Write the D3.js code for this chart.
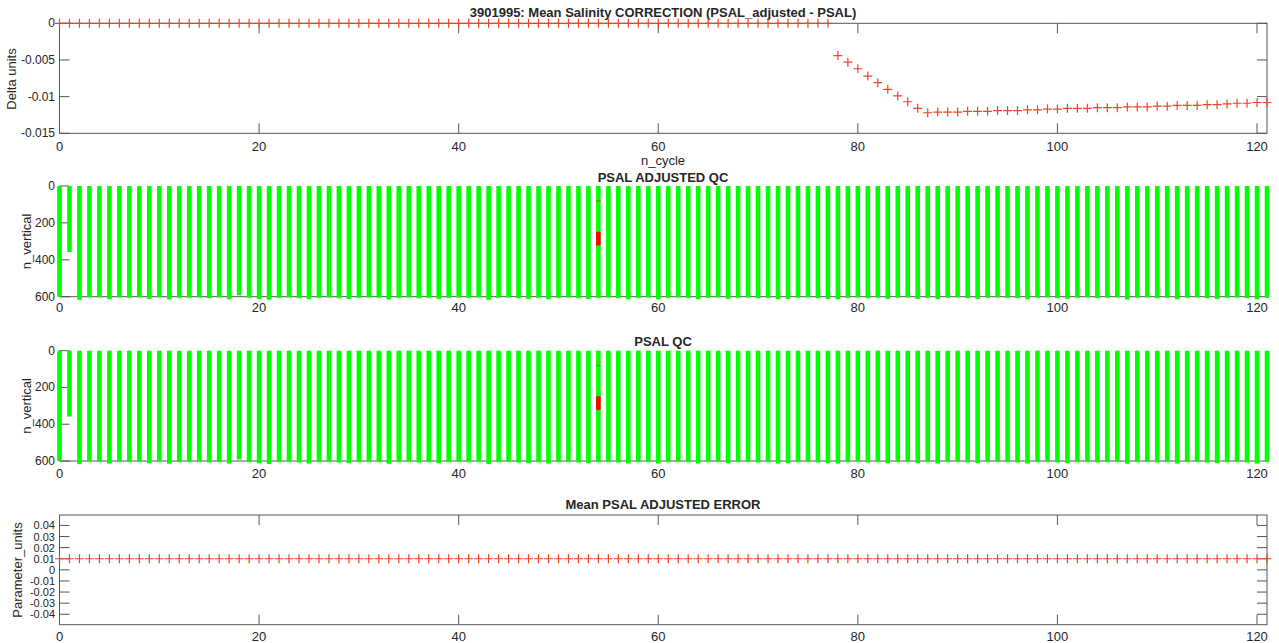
<!DOCTYPE html>
<html>
<head>
<meta charset="utf-8">
<script src="https://cdn.jsdelivr.net/npm/d3@7"></script>
<style>
  body { margin: 0; background: #fff; }
  text { font-family: "Liberation Sans", Arial, Helvetica, sans-serif; fill: #262626; }
</style>
</head>
<body>
<svg id="chart" width="1279" height="643"></svg>
<script>
// ---- data -------------------------------------------------------------
const floatId = "3901995";
const cycles = d3.range(0, 122);   // cycle numbers 0..121

// mean PSAL correction (PSAL_adjusted - PSAL) per cycle
const correction = [
  0,0,0,0,0,0,0,0,0,0, 0,0,0,0,0,0,0,0,0,0,
  0,0,0,0,0,0,0,0,0,0, 0,0,0,0,0,0,0,0,0,0,
  0,0,0,0,0,0,0,0,0,0, 0,0,0,0,0,0,0,0,0,0,
  0,0,0,0,0,0,0,0,0,0, 0,0,0,0,0,0,0,0,
  -0.0044,-0.0053,-0.0062,-0.0072,-0.0081,-0.0090,-0.0099,-0.0107,-0.0116,-0.0122,
  -0.0121,-0.0121,-0.0121,-0.0120,-0.0120,-0.0120,-0.0119,-0.0119,-0.0119,-0.0118,
  -0.0118,-0.0117,-0.0117,-0.0116,-0.0116,-0.0116,-0.0115,-0.0115,-0.0115,-0.0114,
  -0.0114,-0.0114,-0.0113,-0.0113,-0.0112,-0.0112,-0.0112,-0.0111,-0.0111,-0.0110,
  -0.0109,-0.0109,-0.0108,-0.0108
];

// mean PSAL adjusted error per cycle
const adjustedError = [
  0.01,0.01,0.01,0.01,0.01,0.01,0.01,0.01,0.01,0.01, 0.01,0.01,0.01,0.01,0.01,0.01,0.01,0.01,0.01,0.01,
  0.01,0.01,0.01,0.01,0.01,0.01,0.01,0.01,0.01,0.01, 0.01,0.01,0.01,0.01,0.01,0.01,0.01,0.01,0.01,0.01,
  0.01,0.01,0.01,0.01,0.01,0.01,0.01,0.01,0.01,0.01, 0.01,0.01,0.01,0.01,0.01,0.01,0.01,0.01,0.01,0.01,
  0.01,0.01,0.01,0.01,0.01,0.01,0.01,0.01,0.01,0.01, 0.01,0.01,0.01,0.01,0.01,0.01,0.01,0.01,0.01,0.01,
  0.01,0.01,0.01,0.01,0.01,0.01,0.01,0.01,0.01,0.01, 0.01,0.01,0.01,0.01,0.01,0.01,0.01,0.01,0.01,0.01,
  0.01,0.01,0.01,0.01,0.01,0.01,0.01,0.01,0.01,0.01, 0.01,0.01,0.01,0.01,0.01,0.01,0.01,0.01,0.01,0.01,
  0.01,0.01
];

// number of vertical levels in each profile
const nLevels = [
  600,358,617,604,604,614,604,606,604,612, 604,615,606,606,604,608,604,614,592,606,
  612,616,606,604,608,614,606,604,608,612, 606,604,606,615,606,604,608,606,612,606,
  604,606,604,617,606,604,608,612,606,614, 606,604,608,612,606,604,608,614,606,604,
  614,606,604,606,614,606,604,612,606,604, 608,606,614,612,606,604,608,612,614,606,
  604,608,606,612,606,604,612,606,614,606, 604,608,612,606,604,606,608,614,606,604,
  608,612,606,604,608,606,604,615,606,604, 608,606,614,606,604,608,612,606,604,608,
  614,606
];

// flagged level ranges (cycle, first level, last level, QC flag)
const badCycle = [54, 54];
const badFrom  = [248, 77];
const badTo    = [322, 82];
const badFlag  = [4, 3];

const xTicks = [0, 20, 40, 60, 80, 100, 120];
const corrTicks = [0, -0.005, -0.01, -0.015];
const levelTicks = [0, 200, 400, 600];
const errTicks = [0.04, 0.03, 0.02, 0.01, 0, -0.01, -0.02, -0.03, -0.04];

// ---- drawing -----------------------------------------------------------
const svg = d3.select("#chart");
svg.append("rect").attr("width", 1279).attr("height", 643).attr("fill", "#fff");

const AX = "#555";
const MARK = "#f4431f";
const GOOD = "#00ff00";
const flagColor = { 3: "#b8602a", 4: "#ff0000" };
const TL = 10;            // inward tick length

const x = d3.scaleLinear().domain([0, 121]).range([59.5, 1267]);

function title(txt, y) {
  svg.append("text").attr("x", 663).attr("y", y).attr("text-anchor", "middle")
    .attr("dominant-baseline", "central")
    .attr("font-size", 13).attr("font-weight", "bold").text(txt);
}
function yLabel(txt, cx, cy) {
  svg.append("text").attr("transform", `translate(${cx},${cy}) rotate(-90)`)
    .attr("text-anchor", "middle").attr("dominant-baseline", "central")
    .attr("font-size", 13).text(txt);
}
function xAxis(y0, y1, labelY, mirror) {
  const g = svg.append("g");
  g.selectAll("line.bt").data(xTicks).join("line")
    .attr("x1", d => x(d)).attr("x2", d => x(d)).attr("y1", y1).attr("y2", y1 - TL)
    .attr("stroke", AX);
  if (mirror) {
    g.selectAll("line.tt").data(xTicks).join("line")
      .attr("x1", d => x(d)).attr("x2", d => x(d)).attr("y1", y0).attr("y2", y0 + TL)
      .attr("stroke", AX);
  }
  g.selectAll("text").data(xTicks).join("text")
    .attr("x", d => x(d)).attr("y", labelY).attr("text-anchor", "middle")
    .attr("dominant-baseline", "central").attr("font-size", 13).text(d => d);
}
function yAxis(scale, ticks, fmt, mirror, fs) {
  const g = svg.append("g");
  const x0 = x.range()[0], x1 = x.range()[1];
  g.selectAll("line.l").data(ticks).join("line")
    .attr("x1", x0).attr("x2", x0 + TL).attr("y1", d => scale(d)).attr("y2", d => scale(d))
    .attr("stroke", AX);
  if (mirror) {
    g.selectAll("line.r").data(ticks).join("line")
      .attr("x1", x1).attr("x2", x1 - TL).attr("y1", d => scale(d)).attr("y2", d => scale(d))
      .attr("stroke", AX);
  }
  g.selectAll("text").data(ticks).join("text")
    .attr("x", 55).attr("y", d => scale(d)).attr("text-anchor", "end")
    .attr("dominant-baseline", "central").attr("font-size", fs).text(fmt);
}
function frame(y0, y1, full) {
  const x0 = x.range()[0], x1 = x.range()[1];
  if (full) {
    svg.append("rect").attr("x", x0).attr("y", y0).attr("width", x1 - x0).attr("height", y1 - y0)
      .attr("fill", "none").attr("stroke", AX);
  } else {
    svg.append("path").attr("d", `M${x0},${y0}V${y1}H${x1}`).attr("fill", "none").attr("stroke", AX);
  }
}
function plusMarks(data, scale) {
  const s = 4.5;
  svg.append("g").selectAll("path").data(data).join("path")
    .attr("d", d => `M${x(d.c) - s},${scale(d.v)}h${2 * s}M${x(d.c)},${scale(d.v) - s}v${2 * s}`)
    .attr("stroke", MARK).attr("stroke-width", 1.2).attr("fill", "none");
}
const fmtTick = d => d === 0 ? "0" : String(d);

// Panel 1: mean salinity correction
const y1 = d3.scaleLinear().domain([-0.015, 0]).range([133.3, 23.3]);
title(`${floatId}: Mean Salinity CORRECTION (PSAL_adjusted - PSAL)`, 12);
frame(23.3, 133.3, true);
xAxis(23.3, 133.3, 146, true);
yAxis(y1, corrTicks, fmtTick, true, 12);
yLabel("Delta units", 11, 79);
svg.append("text").attr("x", 663).attr("y", 160).attr("text-anchor", "middle")
  .attr("dominant-baseline", "central").attr("font-size", 13).text("n_cycle");
plusMarks(cycles.map((c, i) => ({ c, v: correction[i] })), y1);

// Panels 2 & 3: QC flags per level
function qcPanel(label, top, bottom, labelY) {
  const y = d3.scaleLinear().domain([0, 600]).range([top, bottom]);
  title(label, top - 9);
  frame(top, bottom, false);
  xAxis(top, bottom, labelY, false);
  yAxis(y, levelTicks, d => d, false, 12);
  yLabel("n_vertical", 26, (top + bottom) / 2);
  const hw = (x(1) - x(0)) * 0.23;
  svg.append("g").selectAll("rect").data(cycles).join("rect")
    .attr("x", c => x(c) - hw).attr("width", 2 * hw)
    .attr("y", y(0)).attr("height", c => y(nLevels[c]) - y(0))
    .attr("fill", GOOD);
  svg.append("g").selectAll("rect").data(badCycle.map((c, i) => i)).join("rect")
    .attr("x", i => x(badCycle[i]) - hw).attr("width", 2 * hw)
    .attr("y", i => y(badFrom[i]))
    .attr("height", i => Math.max(1.2, y(badTo[i]) - y(badFrom[i])))
    .attr("fill", i => flagColor[badFlag[i]]);
}
qcPanel("PSAL ADJUSTED QC", 186, 296.7, 307);
qcPanel("PSAL QC", 350.7, 461, 473);

// Panel 4: mean adjusted error
const y4 = d3.scaleLinear().domain([-0.0494, 0.0494]).range([624.7, 515]);
title("Mean PSAL ADJUSTED ERROR", 504);
frame(515, 624.7, true);
xAxis(515, 624.7, 636, true);
yAxis(y4, errTicks, fmtTick, true, 11);
yLabel("Parameter_units", 17, 570);
plusMarks(cycles.map((c, i) => ({ c, v: adjustedError[i] })), y4);
</script>
</body>
</html>
